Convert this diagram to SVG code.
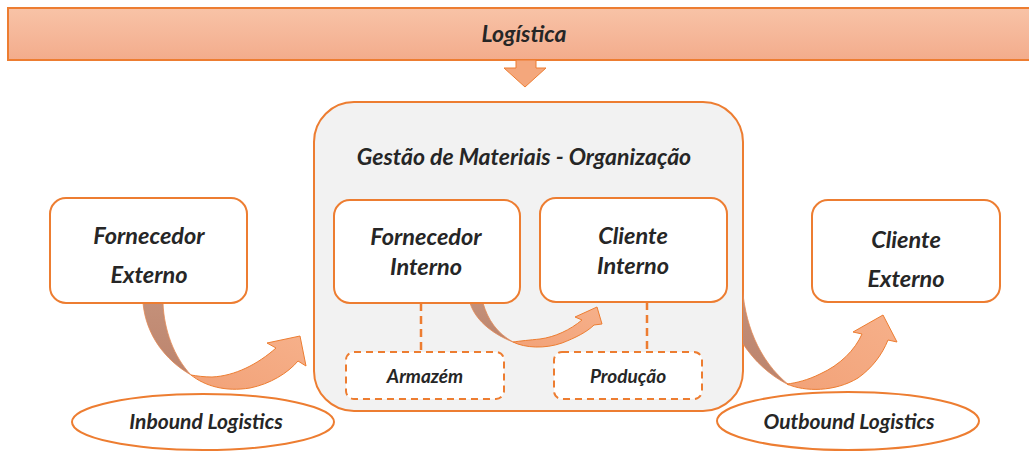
<svg xmlns="http://www.w3.org/2000/svg" width="1029" height="452" viewBox="0 0 1029 452">
<defs>
<linearGradient id="gBanner" x1="0" y1="0" x2="0" y2="1"><stop offset="0" stop-color="#F8C3A7"/><stop offset="1" stop-color="#F3AC8C"/></linearGradient>
<linearGradient id="gLight" x1="0" y1="1" x2="1" y2="0"><stop offset="0" stop-color="#F2A278"/><stop offset="1" stop-color="#F6B08A"/></linearGradient>
<linearGradient id="gDark" x1="0" y1="0" x2="0" y2="1"><stop offset="0" stop-color="#C49079"/><stop offset="1" stop-color="#BC846D"/></linearGradient>
<clipPath id="outside"><path clip-rule="evenodd" d="M0,0H1029V452H0Z M354,102 H703 A40,40 0 0 1 743,142 V371 A40,40 0 0 1 703,411 H354 A40,40 0 0 1 314,371 V142 A40,40 0 0 1 354,102 Z"/></clipPath>
</defs>
<style>
.box{fill:#fff;stroke:#ED7D31;stroke-width:2}
.dash{fill:#fff;stroke:#ED7D31;stroke-width:2;stroke-dasharray:7,5}
.dline{stroke:#ED7D31;stroke-width:2.5;stroke-dasharray:8,5;fill:none}
.t{font-family:Lato,"Open Sans",sans-serif;font-weight:bold;font-style:italic;fill:#262626;text-anchor:middle}
.dark{fill:url(#gDark);stroke:#E58A55;stroke-width:0.8}
.light{fill:url(#gLight);stroke:#ED7D31;stroke-width:1}
</style>

<g id="banner">
<rect x="8" y="8" width="1030" height="52" fill="url(#gBanner)" stroke="#ED7D31" stroke-width="2"/>
<text class="t" x="524" y="42" font-size="23">Logística</text>
<path d="M516,60 H536 V68 H546 L525,87 L504,68 H516 Z" fill="#F4A77C" stroke="#ED7D31" stroke-width="1"/>
</g>

<g id="organizacao">
<rect x="314" y="102" width="429" height="309" rx="40" fill="#F2F2F2" stroke="#ED7D31" stroke-width="2"/>
<text class="t" x="524" y="165" font-size="23">Gestão de Materiais - Organização</text>
</g>

<g id="connectors">
<g clip-path="url(#outside)">
<path class="dark" d="M722,282 L742,282 C744,322 758,360 789,385 C762,372 728,340 722,282 Z"/>
</g>
<path class="light" d="M787,384 C805,392 835,392 858,378 C872,368 882,355 888,340 L897,342 L883,315 L853,332 L862,334 C855,350 840,365 820,374 C808,380 796,383 787,384 Z"/>
<path class="dark" d="M143,303 L163,303 C164,330 174,357 191,375 C165,360 146,335 143,303 Z"/>
<path class="light" d="M191,375 C205,386 225,392 250,388 C270,384 288,373 298,361 L306,366 L300,336 L267,343 L276,348 C258,364 235,376 212,377 C204,377 197,376 191,375 Z"/>
<path class="dark" d="M470,303 L483,303 C488,320 497,333 513,342 C495,335 476,322 470,303 Z"/>
<path class="light" d="M513,342 C525,348 545,349 562,343 C575,338 587,332 594,325 L602,324 L597,307 L575,317 L582,320 C570,330 555,337 540,339 C530,340 520,341 513,342 Z"/>
<line class="dline" x1="421" y1="303" x2="421" y2="352"/>
<line class="dline" x1="647" y1="302" x2="647" y2="352"/>
</g>

<g id="fornecedor-externo">
<rect class="box" x="50" y="198" width="197" height="105" rx="16"/>
<text class="t" x="149" y="244" font-size="23.5">Fornecedor</text>
<text class="t" x="149" y="283" font-size="23.5">Externo</text>
</g>

<g id="fornecedor-interno">
<rect class="box" x="334" y="200" width="186" height="103" rx="16"/>
<text class="t" x="426" y="245" font-size="23.5">Fornecedor</text>
<text class="t" x="426" y="275" font-size="23.5">Interno</text>
</g>

<g id="cliente-interno">
<rect class="box" x="540" y="198" width="187" height="104" rx="16"/>
<text class="t" x="633" y="244" font-size="23.5">Cliente</text>
<text class="t" x="633" y="274" font-size="23.5">Interno</text>
</g>

<g id="cliente-externo">
<rect class="box" x="812" y="200" width="188" height="102" rx="16"/>
<text class="t" x="906" y="248" font-size="23.5">Cliente</text>
<text class="t" x="906" y="287" font-size="23.5">Externo</text>
</g>

<g id="armazem">
<rect class="dash" x="346" y="352" width="158" height="47" rx="8"/>
<text class="t" x="425" y="383" font-size="19">Armazém</text>
</g>

<g id="producao">
<rect class="dash" x="554" y="352" width="148" height="47" rx="8"/>
<text class="t" x="628" y="383" font-size="19">Produção</text>
</g>

<g id="inbound">
<ellipse cx="203" cy="422" rx="131" ry="28" fill="#fff" stroke="#ED7D31" stroke-width="2"/>
<text class="t" x="206" y="429" font-size="21">Inbound Logistics</text>
</g>

<g id="outbound">
<ellipse cx="848" cy="421" rx="131" ry="29" fill="#fff" stroke="#ED7D31" stroke-width="2"/>
<text class="t" x="849" y="429" font-size="21">Outbound Logistics</text>
</g>
</svg>
